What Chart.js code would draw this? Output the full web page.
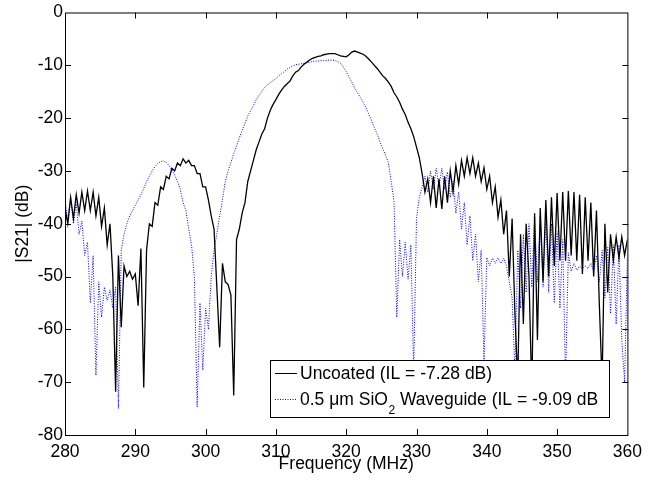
<!DOCTYPE html>
<html>
<head>
<meta charset="utf-8">
<script src="https://cdn.jsdelivr.net/npm/chart.js@4.4.0/dist/chart.umd.min.js"></script>
<style>
  html, body { margin: 0; padding: 0; background: #fff; }
  canvas { display: block; }
</style>
</head>
<body>
<canvas id="s21Chart" width="649" height="481"></canvas>
<script>
// Sweep: 280 -> 360 MHz, one reading every 0.4 MHz (201 points)
const freqStart = 280;
const freqStep = 0.4;

const xTicks = [280, 290, 300, 310, 320, 330, 340, 350, 360];
const yTicks = [0, -10, -20, -30, -40, -50, -60, -70, -80];

const legendLabels = ['Uncoated (IL = -7.28 dB)', '0.5 \u03bcm SiO', '2', ' Waveguide (IL = -9.09 dB'];

// |S21| in dB, 10 values per row (4 MHz per row)
const uncoated = [
    -37, -40, -35, -39, -34.5, -38, -34, -37.5, -33.8, -37.5,
    -34, -38.5, -35, -40.5, -37, -44, -40, -50, -71.8, -46,
    -59.6, -48, -50, -49, -50.5, -49.5, -55.5, -44.7, -71, -45,
    -40, -40.5, -36, -36.5, -33, -33.5, -31, -31.5, -29.5, -30,
    -28.5, -29, -27.7, -28.5, -28, -29, -29, -30.5, -30.5, -33,
    -33, -35.5, -38.5, -41, -52, -63.4, -47.5, -51, -51.5, -53.5,
    -72.5, -43, -41, -38, -36, -32, -30, -28, -26, -24.5,
    -23, -22, -20, -18.5, -17.4, -16.5, -15.5, -14.7, -14, -13.5,
    -13, -12, -11.3, -11, -10.3, -9.8, -9.4, -9, -8.7, -8.5,
    -8.3, -8.2, -8, -7.9, -7.8, -7.8, -7.8, -8, -8.2, -8.3,
    -8.4, -8, -7.5, -7.3, -7.5, -7.7, -7.9, -8.3, -8.8, -9.4,
    -10, -10.6, -11.3, -12, -12.5, -13.2, -14, -15.2, -16, -17,
    -18.3, -19.3, -20.8, -22, -23.5, -25.5, -27.5, -30.5, -34, -31.5,
    -36, -31, -37, -31.5, -37.2, -31, -36, -30, -34, -29,
    -32.5, -28, -31, -27.5, -30.5, -27.5, -31, -28.5, -32, -29.4,
    -33.5, -31, -36, -33, -38.8, -35.5, -42, -37.5, -50, -39,
    -57, -70, -42, -59, -40, -50, -72, -38, -62, -37,
    -51, -35.5, -50, -35, -48, -34.2, -47, -34, -47, -33.8,
    -46, -34, -47, -34.5, -49.5, -35, -47, -36, -50, -37.5,
    -55, -70, -40, -53, -42, -47, -42.5, -46.5, -42.5, -46,
    -43
];

const sio2Waveguide = [
    -35.5, -39.5, -35, -40, -36, -42, -39.5, -46, -43.5, -55,
    -46, -68.7, -51, -57.7, -52, -54.5, -52.5, -56, -52, -75,
    -45, -42, -40, -38.5, -37.5, -36.5, -35.5, -34.5, -33.3, -32,
    -31, -30, -29.2, -28.6, -28.2, -28.1, -28.4, -29, -29.8, -30.8,
    -32, -33.5, -36, -37.5, -41, -44, -50, -74.7, -55, -67.7,
    -56, -60, -50, -45, -41.9, -38.5, -35.5, -32, -30, -28.4,
    -26.7, -25.3, -23.7, -22.3, -21, -19.6, -18.6, -17.6, -16.5, -15.7,
    -14.9, -14.2, -13.7, -13.3, -12.9, -12.5, -12, -11.6, -11.2, -10.7,
    -10.4, -10.1, -9.9, -9.8, -9.7, -9.6, -9.5, -9.4, -9.3, -9.2,
    -9.2, -9.1, -9.1, -9.1, -9.0, -9.0, -9.1, -9.3, -9.6, -10.3,
    -11.2, -12.2, -13.2, -14.3, -15.2, -16.1, -17, -18, -19.2, -20.5,
    -21.8, -23, -24.5, -25.8, -27, -28.5, -32, -35.7, -57.7, -43,
    -50, -43.5, -50.5, -44, -68, -39, -35, -33, -31, -34,
    -30, -33.5, -29.5, -33, -29.5, -33.5, -30.2, -35, -32, -38,
    -34, -41, -36, -44, -38.5, -47, -42, -51, -45, -66,
    -46.4, -48, -46.5, -47.5, -46.5, -47.5, -46.5, -48, -51, -54,
    -68, -45, -56, -42, -53, -40, -52, -38.8, -51, -38.5,
    -52, -39, -53, -40, -55, -41.5, -56, -43, -70, -45.5,
    -49, -47.5, -48.8, -48, -48.5, -48, -48.5, -47.5, -49, -46,
    -51, -45, -54, -44.5, -57, -44, -59, -44, -62, -70,
    -46
];

const FONT = "'Liberation Sans', Arial, Helvetica, sans-serif";
const FONT_SIZE = 17.5;

function toPoints(values) {
    return values.map((v, i) => ({ x: +(freqStart + i * freqStep).toFixed(1), y: v }));
}

// MATLAB-ish frame: box, inward ticks, legend inside the axes, axis titles
const matlabFrame = {
    id: 'matlabFrame',
    afterDatasetsDraw(chart) {
        const { ctx } = chart;
        ctx.save();

        // legend box (sits on top of the traces)
        const lx = 270, ly = 360, lw = 339, lh = 57;
        ctx.fillStyle = '#fff';
        ctx.fillRect(lx, ly, lw, lh);
        ctx.strokeStyle = '#000';
        ctx.lineWidth = 1;
        ctx.strokeRect(lx + 0.5, ly + 0.5, lw, lh);

        ctx.beginPath();
        ctx.moveTo(275, 373.5);
        ctx.lineTo(297, 373.5);
        ctx.stroke();

        ctx.strokeStyle = '#0000ff';
        ctx.setLineDash([1, 1.5]);
        ctx.beginPath();
        ctx.moveTo(275, 399.5);
        ctx.lineTo(297, 399.5);
        ctx.stroke();
        ctx.setLineDash([]);

        ctx.fillStyle = '#000';
        ctx.textBaseline = 'alphabetic';
        ctx.textAlign = 'left';
        ctx.font = FONT_SIZE + 'px ' + FONT;
        ctx.fillText(legendLabels[0], 300, 379);

        let tx = 300;
        ctx.fillText(legendLabels[1], tx, 405);
        tx += ctx.measureText(legendLabels[1]).width;
        ctx.font = '12px ' + FONT;
        ctx.fillText(legendLabels[2], tx + 0.5, 414);
        tx += ctx.measureText(legendLabels[2]).width + 0.5;
        ctx.font = FONT_SIZE + 'px ' + FONT;
        ctx.fillText(legendLabels[3], tx, 405);

        ctx.restore();
    },
    afterDraw(chart) {
        const { ctx, chartArea: a, scales: { x, y } } = chart;
        ctx.save();
        ctx.strokeStyle = '#000';
        ctx.lineWidth = 1;
        ctx.strokeRect(a.left + 0.5, a.top + 0.5, a.right - a.left, a.bottom - a.top);

        const tick = 6;
        ctx.beginPath();
        xTicks.slice(1, -1).forEach(v => {
            const px = Math.round(x.getPixelForValue(v)) + 0.5;
            ctx.moveTo(px, a.bottom);
            ctx.lineTo(px, a.bottom - tick);
            ctx.moveTo(px, a.top);
            ctx.lineTo(px, a.top + tick);
        });
        yTicks.slice(1, -1).forEach(v => {
            const py = Math.round(y.getPixelForValue(v)) + 0.5;
            ctx.moveTo(a.left, py);
            ctx.lineTo(a.left + tick, py);
            ctx.moveTo(a.right + 1, py);
            ctx.lineTo(a.right + 1 - tick, py);
        });
        ctx.stroke();

        // axis titles
        ctx.fillStyle = '#000';
        ctx.font = FONT_SIZE + 'px ' + FONT;
        ctx.textAlign = 'center';
        ctx.textBaseline = 'alphabetic';
        ctx.fillText('Frequency (MHz)', (a.left + a.right) / 2, 469);

        ctx.translate(23, (a.top + a.bottom) / 2);
        ctx.rotate(-Math.PI / 2);
        ctx.textBaseline = 'middle';
        ctx.fillText('|S21| (dB)', 0, 0);
        ctx.restore();
    }
};

const ctx = document.getElementById('s21Chart').getContext('2d');
new Chart(ctx, {
    type: 'line',
    data: {
        datasets: [
            {
                label: legendLabels[0],
                data: toPoints(uncoated),
                borderColor: '#000000',
                borderWidth: 1.3,
                pointRadius: 0,
                tension: 0,
                fill: false
            },
            {
                label: '0.5 \u03bcm SiO2 Waveguide (IL = -9.09 dB',
                data: toPoints(sio2Waveguide),
                borderColor: '#0000ff',
                borderWidth: 1,
                borderDash: [1, 1.5],
                pointRadius: 0,
                tension: 0,
                fill: false
            }
        ]
    },
    options: {
        responsive: false,
        animation: false,
        devicePixelRatio: 1,
        layout: {
            padding: { top: 11, right: 17, left: 0, bottom: 0 }
        },
        scales: {
            x: {
                type: 'linear',
                min: 280,
                max: 360,
                grid: { display: false, drawTicks: false },
                border: { display: false },
                afterBuildTicks: s => { s.ticks = xTicks.map(v => ({ value: v })); },
                afterFit: s => { s.height = 46; },
                ticks: {
                    color: '#000',
                    padding: 7,
                    maxRotation: 0,
                    font: { family: FONT, size: FONT_SIZE }
                }
            },
            y: {
                type: 'linear',
                min: -80,
                max: 0,
                grid: { display: false, drawTicks: false },
                border: { display: false },
                afterBuildTicks: s => { s.ticks = yTicks.map(v => ({ value: v })); },
                afterFit: s => { s.width = 65; },
                ticks: {
                    color: '#000',
                    padding: 2,
                    font: { family: FONT, size: FONT_SIZE }
                }
            }
        },
        plugins: {
            legend: { display: false },
            tooltip: { enabled: false }
        }
    },
    plugins: [matlabFrame]
});
</script>
</body>
</html>
